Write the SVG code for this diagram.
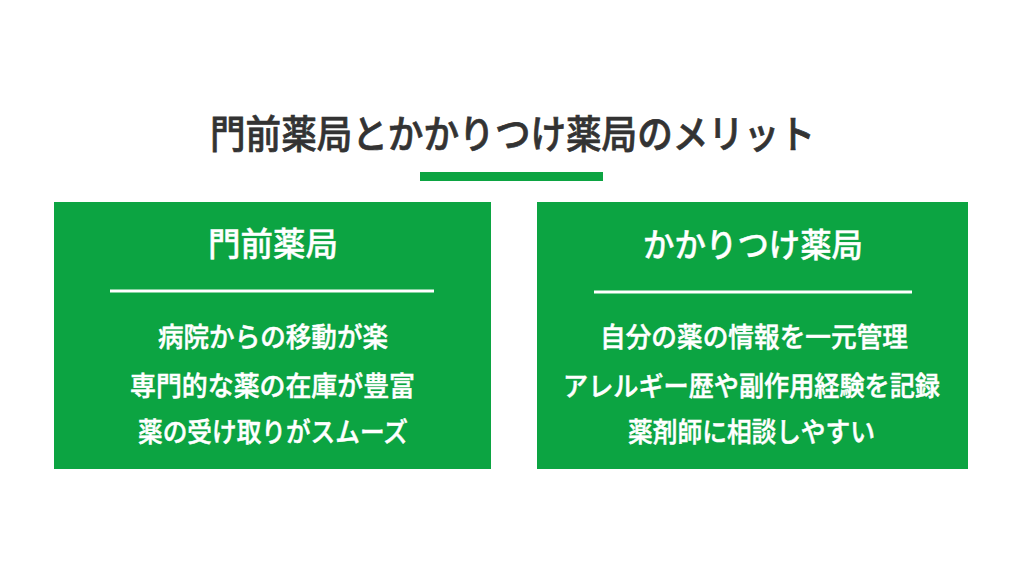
<svg xmlns="http://www.w3.org/2000/svg" width="1024" height="576" viewBox="0 0 1024 576">
<style>
.title{font-family:"Noto Sans CJK JP","Noto Sans CJK SC",sans-serif;font-size:39px;font-weight:500;fill:#333333;stroke:#333333;stroke-width:0.7px;text-anchor:middle}
.head{font-family:"Noto Sans CJK JP","Noto Sans CJK SC",sans-serif;font-size:33px;font-weight:500;fill:#ffffff;stroke:#ffffff;stroke-width:0.4px;text-anchor:middle}
.body{font-family:"Noto Sans CJK JP","Noto Sans CJK SC",sans-serif;font-size:27px;font-weight:500;fill:#ffffff;stroke:#ffffff;stroke-width:0.5px;text-anchor:middle}
.box{fill:#0ca442}
.rule{stroke:#ffffff;stroke-width:3}
</style>
<rect width="1024" height="576" fill="#ffffff"/>
<g id="title">
<text class="title" x="512.5" y="148" textLength="605" lengthAdjust="spacingAndGlyphs">門前薬局とかかりつけ薬局のメリット</text>
<rect x="420" y="172" width="183" height="9" fill="#0ca442"/>
</g>
<g id="monzen">
<rect class="box" x="54" y="202" width="437" height="267"/>
<text class="head" x="273" y="256" textLength="130" lengthAdjust="spacingAndGlyphs">門前薬局</text>
<line class="rule" x1="110" y1="291" x2="434" y2="291"/>
<text class="body" x="273" y="347" textLength="230" lengthAdjust="spacingAndGlyphs">病院からの移動が楽</text>
<text class="body" x="272.5" y="396" textLength="285" lengthAdjust="spacingAndGlyphs">専門的な薬の在庫が豊富</text>
<text class="body" x="273" y="442" textLength="270" lengthAdjust="spacingAndGlyphs">薬の受け取りがスムーズ</text>
</g>
<g id="kakaritsuke">
<rect class="box" x="537" y="202" width="431" height="267"/>
<text class="head" x="753" y="257" textLength="220" lengthAdjust="spacingAndGlyphs">かかりつけ薬局</text>
<line class="rule" x1="594" y1="292" x2="912" y2="292"/>
<text class="body" x="754" y="347" textLength="308" lengthAdjust="spacingAndGlyphs">自分の薬の情報を一元管理</text>
<text class="body" x="751.5" y="396" textLength="377" lengthAdjust="spacingAndGlyphs">アレルギー歴や副作用経験を記録</text>
<text class="body" x="751.5" y="442" textLength="247" lengthAdjust="spacingAndGlyphs">薬剤師に相談しやすい</text>
</g>
<g id="connectors"/>
</svg>
